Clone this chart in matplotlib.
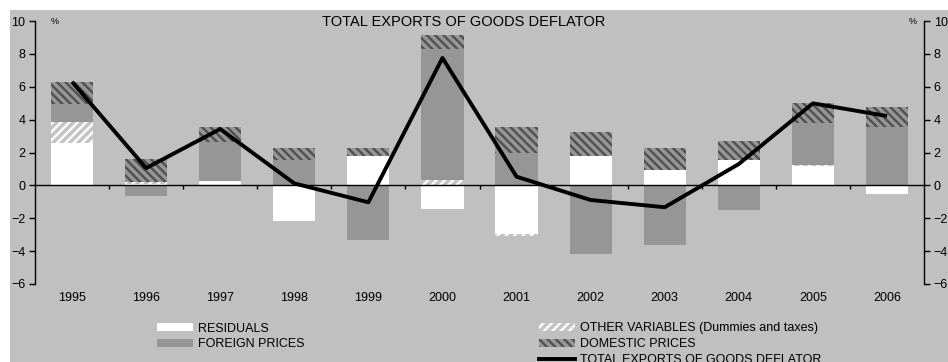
import matplotlib
matplotlib.use("Agg")
import matplotlib.pyplot as plt
import numpy as np
from matplotlib.patches import Rectangle, Patch
from matplotlib.lines import Line2D

plt.rcParams["font.family"] = ["Liberation Sans", "DejaVu Sans"]
plt.rcParams["hatch.linewidth"] = 1.7

years = ["1995", "1996", "1997", "1998", "1999", "2000",
         "2001", "2002", "2003", "2004", "2005", "2006"]
residuals = [2.57, 0.10, 0.27, -2.15, 1.80, -1.44, -2.94, 1.78, 0.94, 1.53, 1.16, -0.50]
other_vars = [1.30, 0.10, -0.06, 0.00, 0.00, 0.33, -0.12, 0.00, 0.00, 0.00, 0.10, 0.00]
foreign = [1.08, -0.63, 2.35, 1.55, -3.30, 7.97, 1.97, -4.15, -3.60, -1.50, 2.54, 3.57]
domestic = [1.33, 1.40, 0.93, 0.72, 0.47, 0.85, 1.58, 1.46, 1.33, 1.17, 1.20, 1.20]
total = [6.30, 1.05, 3.43, 0.12, -1.03, 7.75, 0.53, -0.89, -1.33, 1.30, 4.99, 4.22]

W, H = 948, 362
fig = plt.figure(figsize=(W / 100, H / 100), dpi=100, facecolor="white")
bg = "#C0C0C0"
fig.patches.append(Rectangle((10 / W, 0), 1 - 10 / W, 1 - 10 / H,
                             transform=fig.transFigure, facecolor=bg,
                             edgecolor="none", zorder=-10))

ax = fig.add_axes([35 / W, 1 - 284 / H, (924 - 35) / W, (284 - 21) / H])
ax.set_facecolor("none")

x = np.arange(len(years))
bw = 0.57

styles = [
    dict(facecolor="white", edgecolor="white", hatch=None),
    dict(facecolor="#C4C4C4", edgecolor="white", hatch="////"),
    dict(facecolor="#969696", edgecolor="#969696", hatch=None),
    dict(facecolor="#969696", edgecolor="#505050", hatch="\\\\\\\\"),
]
series = [residuals, other_vars, foreign, domestic]

pos_base = np.zeros(len(years))
neg_base = np.zeros(len(years))
for vals, st in zip(series, styles):
    v = np.array(vals)
    pos = np.where(v > 0, v, 0)
    neg = np.where(v < 0, v, 0)
    ax.bar(x, pos, bw, bottom=pos_base, linewidth=0, zorder=2, **st)
    ax.bar(x, neg, bw, bottom=neg_base, linewidth=0, zorder=2, **st)
    pos_base += pos
    neg_base += neg

ax.plot(x, total, color="black", lw=2.8, zorder=4, solid_capstyle="butt")

ax.axhline(0, color="black", lw=1.0, zorder=3)
ax.vlines(np.arange(0.5, len(years) - 0.5, 1), -0.25, 0, color="black", lw=1.0, zorder=3)

ax.set_xlim(-0.5, len(years) - 0.5)
ax.set_ylim(-6, 10)
ax.set_yticks(range(-6, 11, 2))
ax.set_xticks([])
for s in ["top", "bottom", "right"]:
    ax.spines[s].set_visible(False)
ax.spines["left"].set_linewidth(1.0)
ax.tick_params(axis="y", direction="out", length=4, width=1.0, pad=3, labelsize=9)

ax2 = ax.twinx()
ax2.set_ylim(-6, 10)
ax2.set_yticks(range(-6, 11, 2))
for s in ["top", "bottom", "left"]:
    ax2.spines[s].set_visible(False)
ax2.spines["right"].set_linewidth(1.0)
ax2.tick_params(axis="y", direction="out", length=4, width=1.0, pad=3, labelsize=9)

for xi, yr in zip(x, years):
    ax.text(xi, -6.85, yr, ha="center", va="center", fontsize=9)

fig.text(464 / W, 1 - 22 / H, "TOTAL EXPORTS OF GOODS DEFLATOR",
         ha="center", va="center", fontsize=10.5)
fig.text(55 / W, 1 - 22 / H, "%", ha="center", va="center", fontsize=6.5)
fig.text(913 / W, 1 - 22 / H, "%", ha="center", va="center", fontsize=6.5)

leg_kw = dict(frameon=False, fontsize=9, handlelength=2.9, handleheight=0.56,
              handletextpad=0.4, labelspacing=0.3, borderpad=0, borderaxespad=0,
              loc="upper left")
h1 = [Patch(**styles[0], linewidth=0), Patch(**styles[2], linewidth=0)]
leg1 = fig.legend(h1, ["RESIDUALS", "FOREIGN PRICES"],
                  bbox_to_anchor=(157 / W, 1 - 322.5 / H), **leg_kw)
h2 = [Patch(**styles[1], linewidth=0), Patch(**styles[3], linewidth=0),
      Line2D([], [], color="black", lw=2.8)]
leg2 = fig.legend(h2, ["OTHER VARIABLES (Dummies and taxes)", "DOMESTIC PRICES",
                       "TOTAL EXPORTS OF GOODS DEFLATOR"],
                  bbox_to_anchor=(539 / W, 1 - 322.5 / H), **leg_kw)

fig.savefig("out.png", dpi=100, facecolor=fig.get_facecolor())
